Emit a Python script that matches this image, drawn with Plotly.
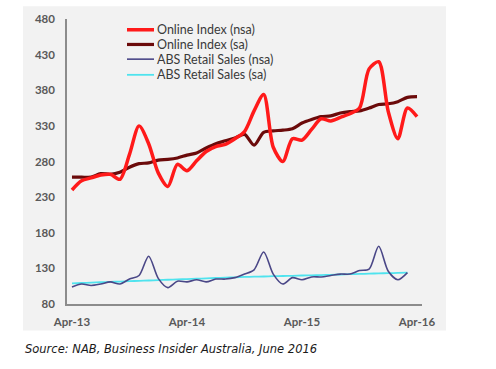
import plotly.graph_objects as go

months = ["Apr-13","May-13","Jun-13","Jul-13","Aug-13","Sep-13","Oct-13","Nov-13","Dec-13","Jan-14","Feb-14","Mar-14",
          "Apr-14","May-14","Jun-14","Jul-14","Aug-14","Sep-14","Oct-14","Nov-14","Dec-14","Jan-15","Feb-15","Mar-15",
          "Apr-15","May-15","Jun-15","Jul-15","Aug-15","Sep-15","Oct-15","Nov-15","Dec-15","Jan-16","Feb-16","Mar-16",
          "Apr-16"]
tick_labels = ["Apr-13", "Apr-14", "Apr-15", "Apr-16"]
y_ticks = [80, 130, 180, 230, 280, 330, 380, 430, 480]

online_nsa = [240, 253, 257, 261, 262, 255, 290, 330, 305, 264, 245, 276,
              267, 281, 294, 301, 304, 312, 322, 351, 374, 300, 280, 312,
              310, 325, 340, 337, 342, 347, 355, 410, 420, 350, 312, 355,
              343]
online_sa = [258, 258, 258, 263, 262, 265, 272, 277, 278, 282, 283, 285,
             289, 292, 299, 305, 309, 313, 318, 303, 321, 323, 324, 326,
             334, 339, 343, 344, 348, 350, 351, 355, 360, 361, 364, 370,
             371]
abs_nsa = [104, 108, 106, 108, 111, 108, 115, 120, 147, 116, 103, 112,
           111, 114, 111, 115, 115, 117, 122, 128, 153, 122, 108, 117,
           114, 118, 118, 120, 122, 122, 127, 129, 161, 126, 114, 124]
abs_sa = [109, 109.5, 110, 110.5, 111, 111.5, 112, 112.5, 113, 113.5, 114, 114.5,
          115, 115.5, 116, 116.5, 117, 117.5, 118, 118.3, 118.6, 119, 119.3, 119.6,
          120, 120.3, 120.6, 121, 121.4, 121.8, 122.2, 122.6, 123, 123.3, 123.6, 124]

names = ["Online Index (nsa)", "Online Index (sa)", "ABS Retail Sales (nsa)", "ABS Retail Sales (sa)"]
series = [online_nsa, online_sa, abs_nsa, abs_sa]
colors = ["#ff1a1a", "#6b0a0a", "#4a4787", "#4fe3ee"]
widths = [3.5, 3.2, 1.6, 1.8]

# pixel geometry of plot area
L, R, T, B = 67, 422, 13, 304
W, H = 496, 369

def px(x):
    return (x - L) / (R - L)

def py(y):
    return (B - y) / (B - T)

fig = go.Figure()
order = [3, 2, 1, 0]
for k in order:
    vals = series[k]
    fig.add_trace(go.Scatter(
        x=list(range(len(vals))), y=vals, mode="lines", name=names[k],
        line=dict(color=colors[k], width=widths[k], shape="spline", smoothing=0.8),
        showlegend=False, hoverinfo="skip"))

shapes = [
    dict(type="rect", xref="paper", yref="paper", x0=px(23), x1=px(446), y0=py(331), y1=py(0),
         fillcolor="#f2f2f2", line=dict(width=0), layer="below"),
]
annotations = []
legend_rows = [24, 39, 54, 70]
for k in range(4):
    yy = py(legend_rows[k])
    shapes.append(dict(type="line", xref="paper", yref="paper", x0=px(127), x1=px(154), y0=yy, y1=yy,
                       line=dict(color=colors[k], width=widths[k])))
    annotations.append(dict(xref="paper", yref="paper", x=px(155), y=yy, text=names[k], showarrow=False,
                            xanchor="left", yanchor="middle",
                            font=dict(family="Lato", size=12.5, color="#3a3a3a")))
annotations.append(dict(xref="paper", yref="paper", x=px(23), y=py(350),
                        text="<i>Source: NAB, Business Insider Australia, June 2016</i>",
                        showarrow=False, xanchor="left", yanchor="middle",
                        font=dict(family="DejaVu Sans", size=11.5, color="#1a1a1a")))

fig.update_layout(
    width=W, height=H,
    margin=dict(l=L, r=W - R, t=T, b=H - B, pad=0),
    paper_bgcolor="white", plot_bgcolor="rgba(0,0,0,0)",
    showlegend=False,
    shapes=shapes, annotations=annotations,
    xaxis=dict(range=[-0.52, 36.52], tickvals=[0, 12, 24, 36], ticktext=tick_labels,
               showgrid=False, zeroline=False, showline=True, linecolor="#8c8c8c", linewidth=1.5,
               ticks="outside", ticklen=6, tickcolor="rgba(0,0,0,0)",
               tickfont=dict(family="Lato", size=11.5, color="#595959", weight="bold")),
    yaxis=dict(range=[80, 480], tickvals=y_ticks, showgrid=False, zeroline=False,
               showline=True, linecolor="#8c8c8c", linewidth=1.5,
               ticks="outside", ticklen=8, tickcolor="rgba(0,0,0,0)",
               tickfont=dict(family="Lato", size=11.5, color="#595959", weight="bold")),
)

fig.write_html("out.html", config={"displayModeBar": False},
               post_script="document.body.style.margin='0px';")
